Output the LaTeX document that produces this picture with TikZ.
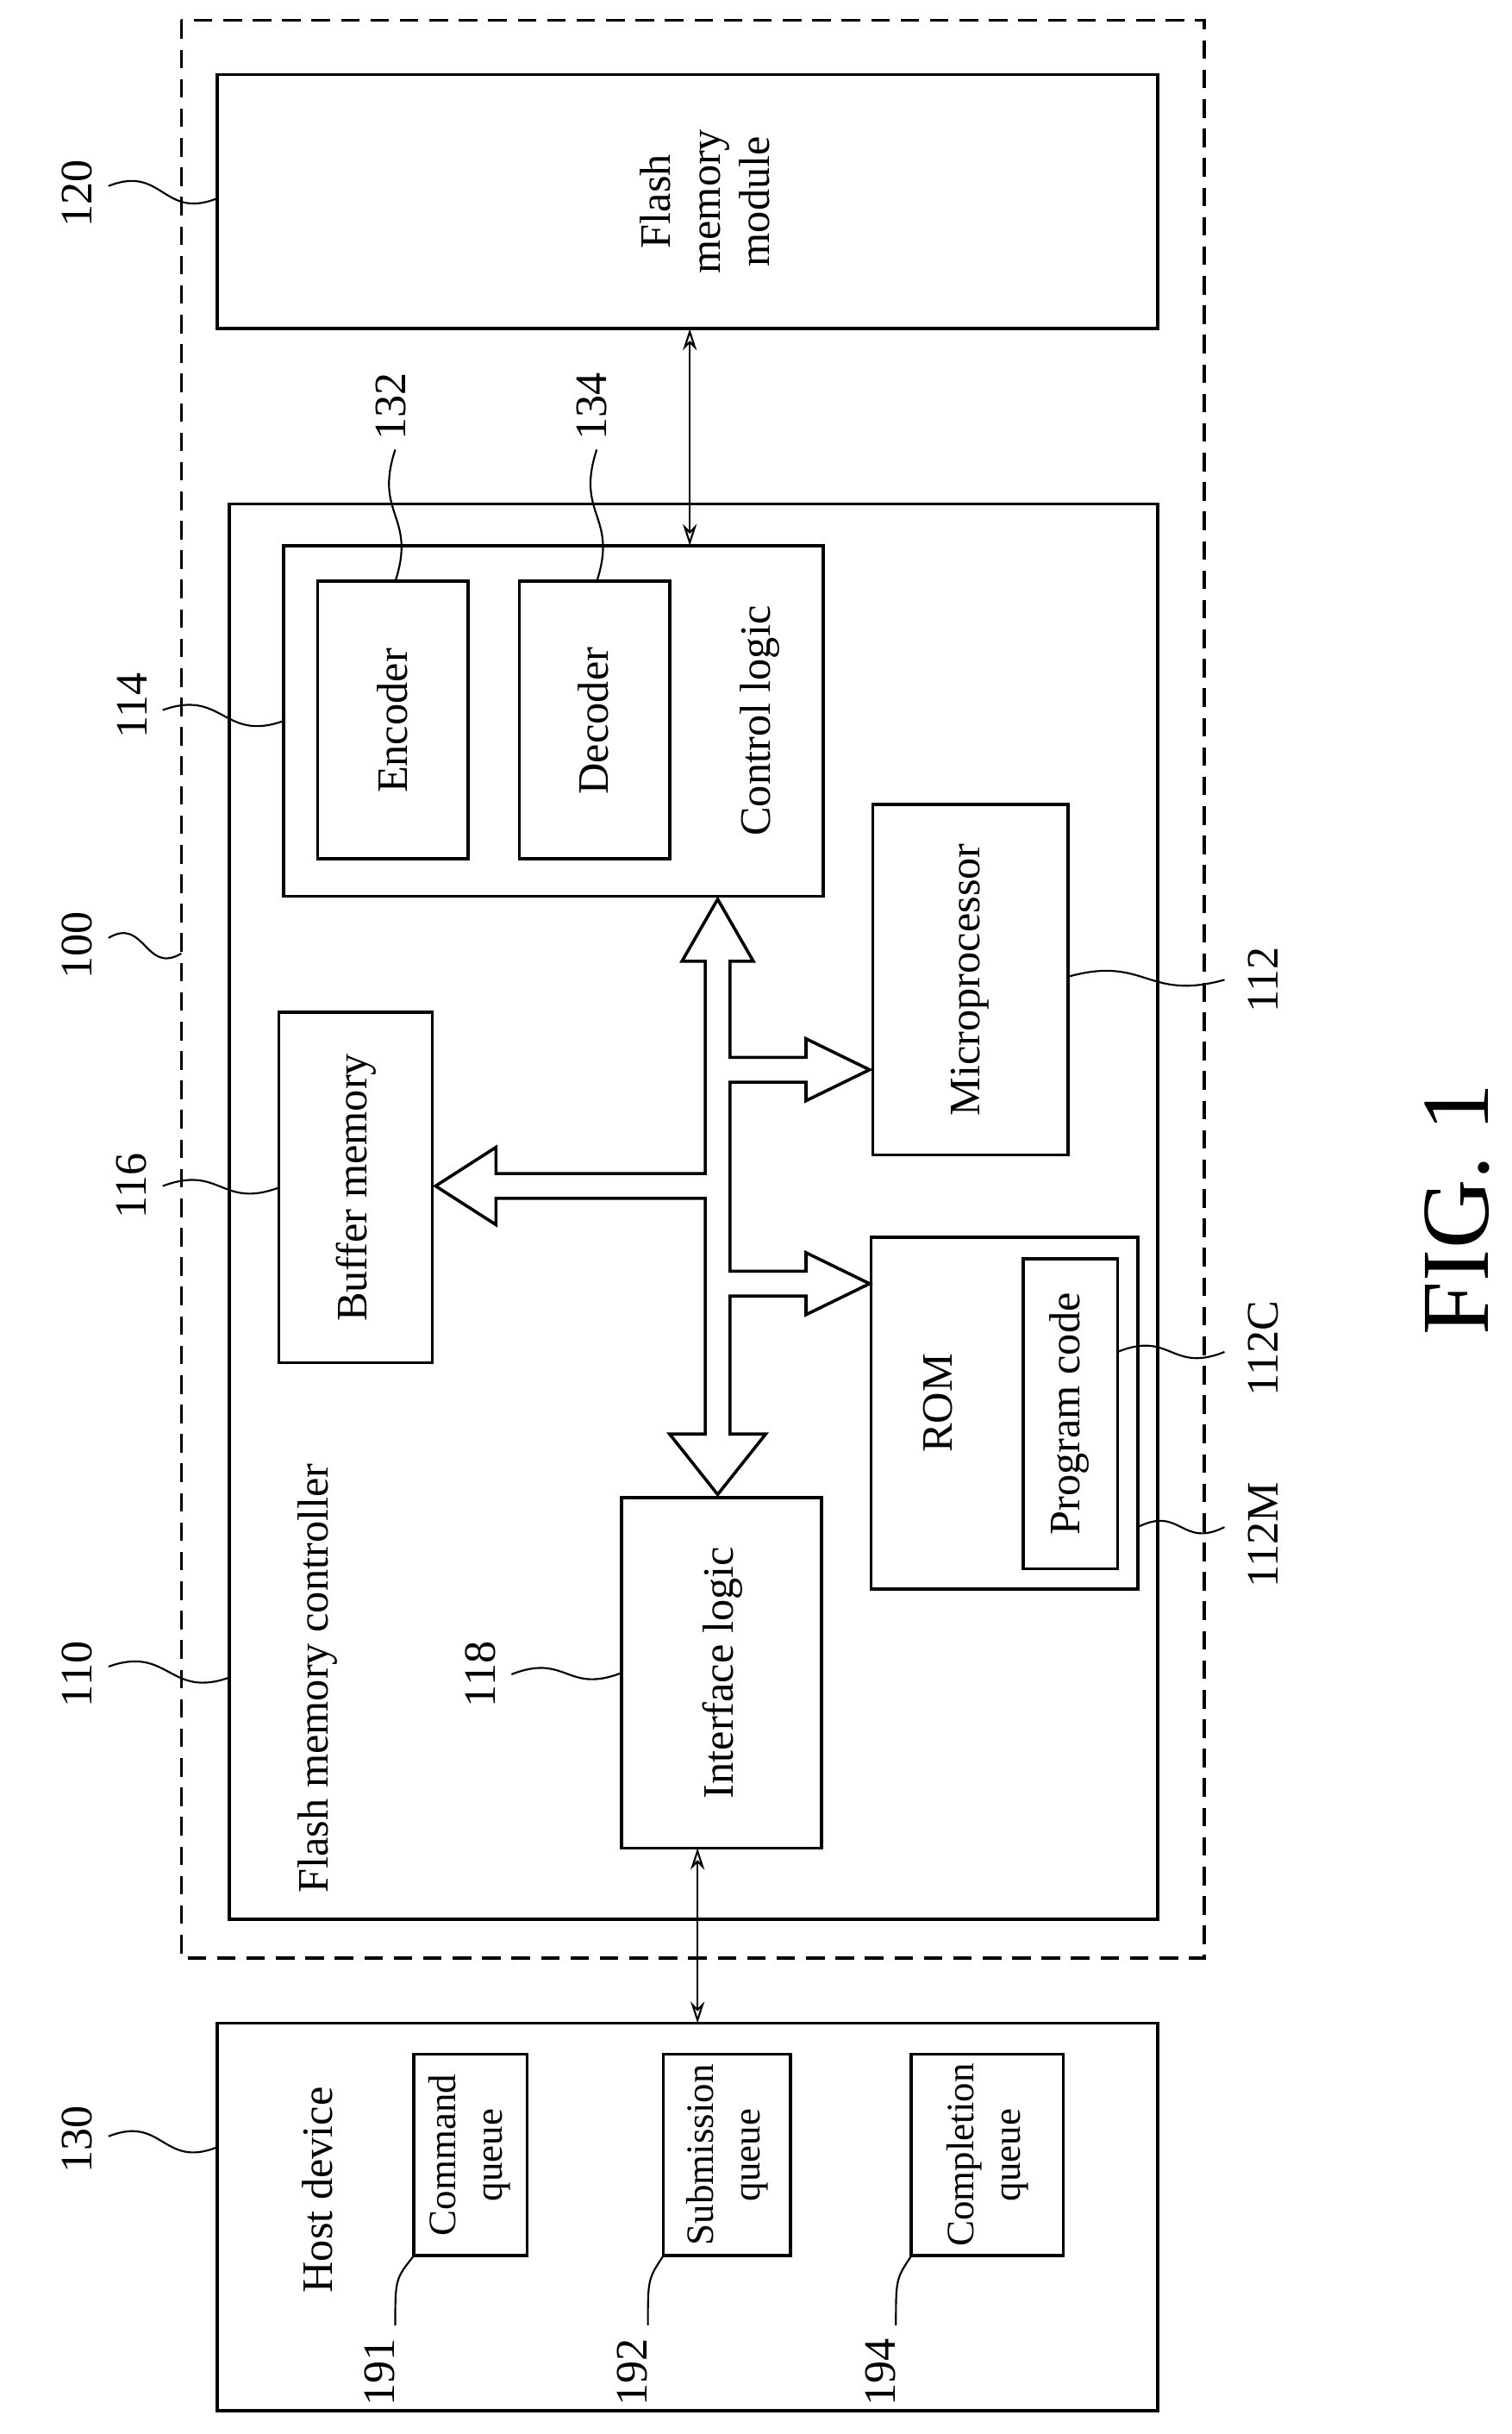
\documentclass[tikz,border=0pt]{standalone}
\usepackage{fontspec}
\setmainfont{Liberation Serif}
\usetikzlibrary{arrows.meta}
\begin{document}
\begin{tikzpicture}[x=1pt,y=-1pt,line width=2pt,
  box/.style={draw},
  txt/.style={rotate=90,font=\fontsize{28}{32}\selectfont,align=center,inner sep=0},
  qtxt/.style={rotate=90,font=\fontsize{25}{30}\selectfont,align=center,inner sep=0},
  lab/.style={rotate=90,font=\fontsize{29}{32}\selectfont,inner sep=0},
  lead/.style={line width=1.2pt},
  dbl/.style={line width=1.2pt,{Stealth[length=14pt,width=9pt,open]}-{Stealth[length=14pt,width=9pt,open]}}]
\useasboundingbox (0,0) rectangle (975,1570);
\newcommand{\wv}[4]{\draw[lead] (#1,#2) .. controls ({(#1+#3)/2},{#2-14}) and ({(#1+#3)/2},{#4+14}) .. (#3,#4);}
\newcommand{\wvv}[4]{\draw[lead] (#1,#2) .. controls ({#1-14},{(#2+#4)/2}) and ({#3+14},{(#2+#4)/2}) .. (#3,#4);}
% outer dashed
\draw[dashed,line width=2pt,dash pattern=on 12pt off 7pt] (117,13) rectangle (777,1263);
\node[lab] (l100) at (50,610) {100}; \wv{70}{605}{117}{615}
% flash module
\draw[box] (140,48) rectangle (747,212);
\node[txt] (fm) at (455,130) {Flash\\memory\\module};
\node[lab] (l120) at (50,125) {120}; \wv{70}{120}{140}{128}
% controller
\draw[box] (148,325) rectangle (747,1238);
\node[txt,anchor=west] (fmc) at (205,1222) {Flash memory controller};
\node[lab] (l110) at (50,1080) {110}; \wv{70}{1075}{148}{1082}
% control logic
\draw[box] (183,352) rectangle (531,578);
\node[txt] (cl) at (490,465) {Control logic};
\node[lab] (l114) at (85,455) {114}; \wv{105}{458}{183}{465}
\draw[box] (205,375) rectangle (302,554); \node[txt] (enc) at (253,465) {Encoder};
\draw[box] (335,375) rectangle (432,554); \node[txt] (dec) at (383,465) {Decoder};
\node[lab] (l132) at (252,262) {132}; \wvv{255}{290}{255}{375}
\node[lab] (l134) at (382,262) {134}; \wvv{385}{290}{385}{375}
% microprocessor
\draw[box] (563,519) rectangle (689,745); \node[txt] (mp) at (626,632) {Microprocessor};
\node[lab] (l112) at (815,632) {112}; \wv{689}{630}{790}{632}
% buffer
\draw[box] (180,653) rectangle (279,879); \node[txt] (bm) at (230,766) {Buffer memory};
\node[lab] (l116) at (85,765) {116}; \wv{105}{765}{180}{766}
% interface
\draw[box] (401,966) rectangle (530,1192); \node[txt] (il) at (466,1079) {Interface logic};
\node[lab] (l118) at (310,1080) {118}; \wv{330}{1080}{401}{1079}
% ROM
\draw[box] (562,798) rectangle (734,1025); \node[txt] (rom) at (605,905) {ROM};
\draw[box] (660,812) rectangle (721,1012); \node[txt] (pc) at (690,912) {Program code};
\node[lab] (l112c) at (815,870) {112C}; \wv{721}{872}{790}{872}
\node[lab] (l112m) at (815,990) {112M}; \wv{734}{985}{790}{985}
% bus
\draw[line width=2pt,fill=white] (463,580) -- (486,620) -- (471,620) -- (471,682) -- (520,682) -- (520,670) -- (561,690) -- (520,710) -- (520,698) -- (471,698) -- (471,820) -- (520,820) -- (520,808) -- (561,828) -- (520,848) -- (520,836) -- (471,836) -- (471,925) -- (494,925) -- (463,964) -- (432,925) -- (455,925) -- (455,773) -- (320,773) -- (320,790) -- (281,765) -- (320,740) -- (320,757) -- (455,757) -- (455,620) -- (440,620) -- cycle;
% thin arrows
\coordinate (a1) at (445,212); \coordinate (a2) at (445,352);
\draw[dbl] (a1) -- (a2);
\coordinate (b1) at (450,1192); \coordinate (b2) at (450,1305);
\draw[dbl] (b1) -- (b2);
% host
\draw[box] (140,1305) rectangle (747,1555);
\node[txt,anchor=west] (hd) at (205,1480) {Host device};
\node[lab] (l130) at (50,1380) {130}; \wv{70}{1378}{140}{1385}
\draw[box] (267,1325) rectangle (340,1455); \node[qtxt] (cq) at (303,1390) {Command\\queue};
\draw[box] (428,1325) rectangle (510,1455); \node[qtxt] (sq) at (469,1390) {Submission\\queue};
\draw[box] (588,1325) rectangle (686,1455); \node[qtxt] (pq) at (637,1390) {Completion\\queue};
\node[lab] (l191) at (245,1530) {191}; \draw[lead] (255,1500) .. controls (255,1470) .. (267,1455);
\node[lab] (l192) at (408,1530) {192}; \draw[lead] (418,1500) .. controls (418,1470) .. (428,1455);
\node[lab] (l194) at (568,1530) {194}; \draw[lead] (578,1500) .. controls (578,1470) .. (588,1455);
\node[rotate=90,font=\fontsize{62}{66}\selectfont] (fig) at (940,780) {FIG. 1};
\end{tikzpicture}
\end{document}
